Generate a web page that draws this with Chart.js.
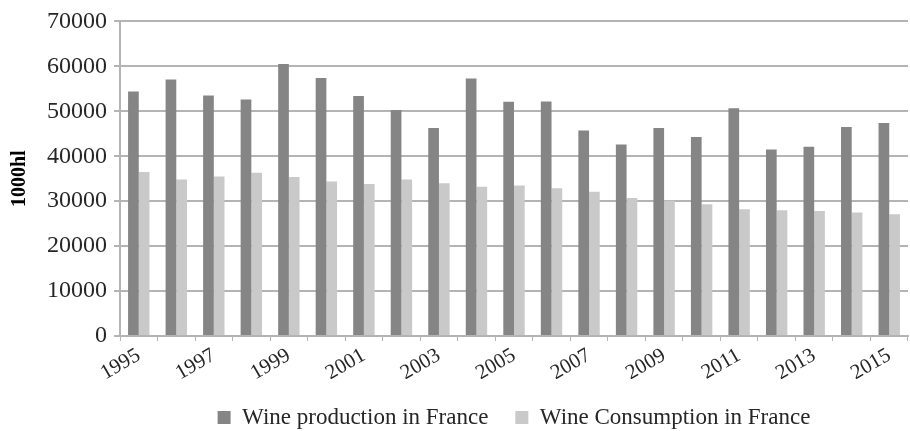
<!DOCTYPE html>
<html>
<head>
<meta charset="utf-8">
<script src="https://cdn.jsdelivr.net/npm/chart.js@4"></script>
<style>
  html, body { margin: 0; padding: 0; background: #ffffff; }
  #grafico { display: block; }
</style>
</head>
<body>
<canvas id="grafico" width="910" height="431"></canvas>
<script>
// Dados (1000hl)
const anos = ["1995", "1996", "1997", "1998", "1999", "2000", "2001", "2002", "2003", "2004", "2005",
              "2006", "2007", "2008", "2009", "2010", "2011", "2012", "2013", "2014", "2015"];
const producao = [54400, 57100, 53500, 52600, 60500, 57400, 53400, 50300, 46300, 57300, 52100,
                  52200, 45700, 42600, 46300, 44300, 50700, 41500, 42100, 46500, 47400];
const consumo = [36500, 34800, 35500, 36300, 35400, 34400, 33800, 34800, 34000, 33200, 33500,
                 32900, 32100, 30700, 30100, 29300, 28200, 28000, 27800, 27500, 27100];
const yTicks = [0, 10000, 20000, 30000, 40000, 50000, 60000, 70000];

const fonte = "'Liberation Serif', 'Times New Roman', serif";
const corGrade = "#b4b4b4";
const corTexto = "#262626";

document.addEventListener("DOMContentLoaded", () => {
    const ctx = document.getElementById("grafico").getContext("2d");
    new Chart(ctx, {
        type: "bar",
        data: {
            labels: anos,
            datasets: [
                {
                    label: "Wine production in France",
                    data: producao,
                    backgroundColor: "#858585",
                    barPercentage: 1,
                    categoryPercentage: 0.57
                },
                {
                    label: "Wine Consumption in France",
                    data: consumo,
                    backgroundColor: "#c9c9c9",
                    barPercentage: 1,
                    categoryPercentage: 0.57
                }
            ]
        },
        options: {
            responsive: false,
            animation: false,
            layout: { padding: { left: 8, right: 2, top: 3, bottom: 0 } },
            scales: {
                x: {
                    // altura fixa para o eixo x (rótulos inclinados)
                    afterFit: (eixo) => { eixo.height = 43; },
                    grid: {
                        display: true,
                        drawOnChartArea: false,
                        drawTicks: true,
                        tickLength: 5,
                        color: corGrade,
                        lineWidth: 1
                    },
                    border: { display: true, color: corGrade, width: 2 },
                    ticks: {
                        autoSkip: false,
                        maxRotation: 30,
                        minRotation: 30,
                        padding: 2,
                        color: corTexto,
                        font: { family: fonte, size: 21 },
                        callback: function (valor, indice) {
                            return indice % 2 === 0 ? anos[indice] : "";
                        }
                    }
                },
                y: {
                    min: 0,
                    max: 70000,
                    afterFit: (eixo) => { eixo.width = 112; },
                    afterBuildTicks: (eixo) => {
                        eixo.ticks = yTicks.map(v => ({ value: v }));
                    },
                    grid: {
                        color: corGrade,
                        lineWidth: 2,
                        tickLength: 6
                    },
                    border: { display: true, color: corGrade, width: 2 },
                    ticks: {
                        color: corTexto,
                        padding: 7,
                        font: { family: fonte, size: 24 },
                        callback: (v) => String(v)
                    },
                    title: {
                        display: true,
                        text: "1000hl",
                        color: "#000000",
                        font: { family: fonte, size: 20, weight: "bold" },
                        padding: { top: 0, bottom: 2 }
                    }
                }
            },
            plugins: {
                legend: {
                    position: "bottom",
                    fullSize: false,
                    maxHeight: 52,
                    labels: {
                        boxWidth: 13,
                        boxHeight: 13,
                        padding: 27,
                        color: corTexto,
                        font: { family: fonte, size: 23 }
                    }
                },
                tooltip: { enabled: false }
            }
        }
    });
});
</script>
</body>
</html>
